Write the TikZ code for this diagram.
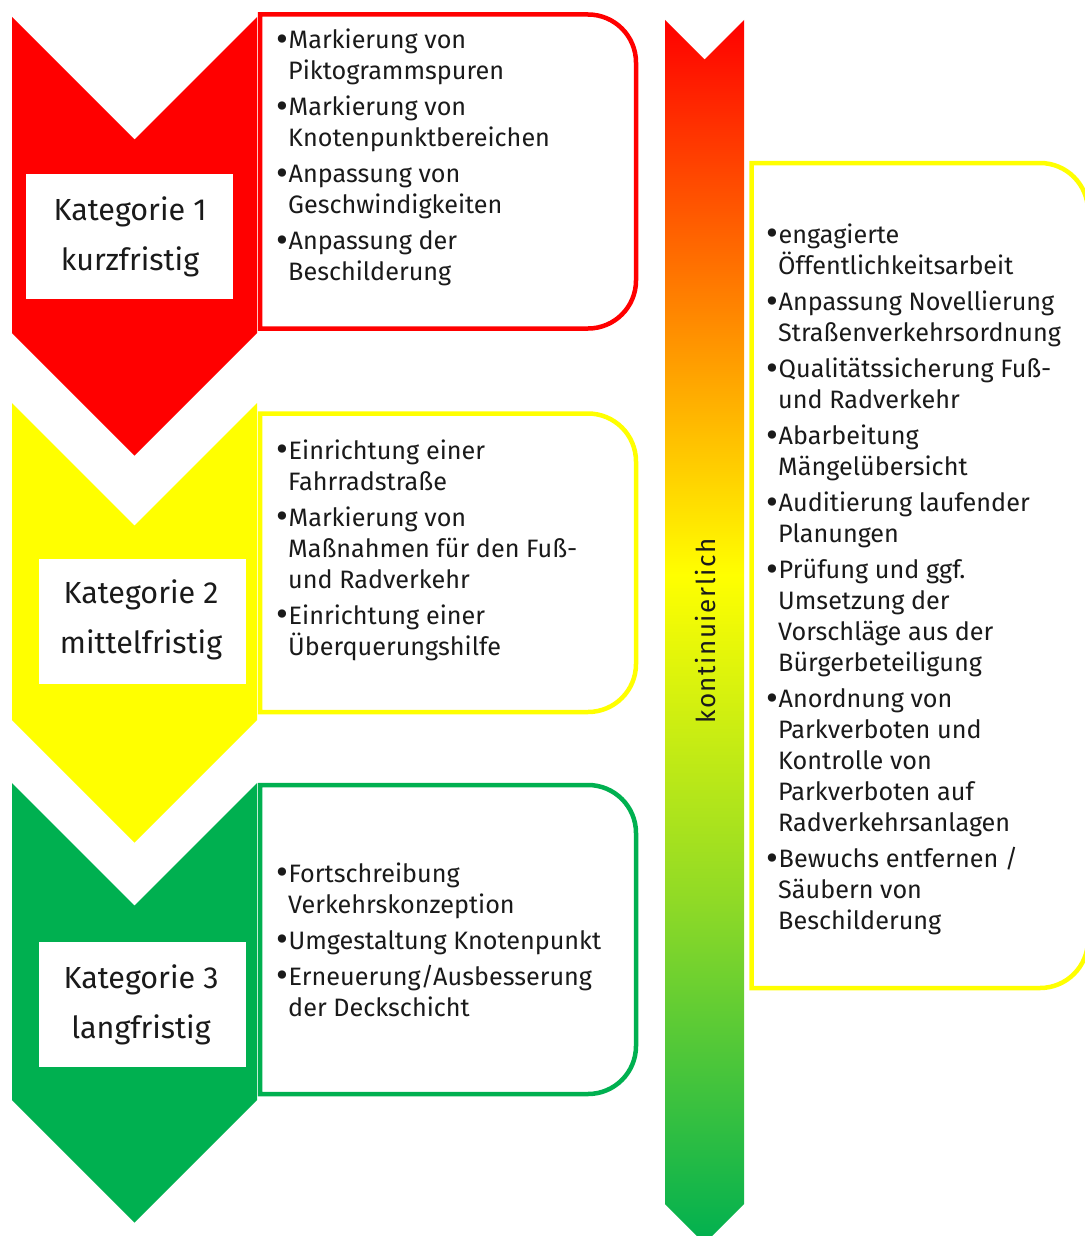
\documentclass[tikz,border=0pt]{standalone}
\usepackage{fontspec}
\usepackage{graphicx}
\setmainfont{Fira Sans}
\definecolor{kred}{HTML}{FF0000}
\definecolor{kyellow}{HTML}{FFFF00}
\definecolor{kgreen}{HTML}{00B050}
\definecolor{klgreen}{HTML}{90DA26}
\definecolor{ktext}{HTML}{1A1A1A}
\pgfdeclareverticalshading{kontgrad}{100bp}{color(0bp)=(kgreen); color(25bp)=(kgreen); color(39.05bp)=(klgreen); color(52.33bp)=(kyellow); color(75bp)=(kred); color(100bp)=(kred)}
\newcommand{\kbu}{\makebox[12.5pt][l]{\raisebox{-2.5pt}{\scalebox{1.45}{•}}}}
\newcommand{\kct}{\hspace*{12pt}}
\newcommand{\kchev}[3]{\fill[#1] (12,#2) -- (134.5,{#2+122.5}) -- (257,#2) -- (257,#3) -- (134.5,{#3+122.5}) -- (12,#3) -- cycle;}
\newcommand{\kbox}[5]{\draw[#1, line width=4.5pt, fill=white] (#2,#3) -- ({#4-48},#3) arc[start angle=-90,end angle=0,radius=48] -- (#4,{#5-48}) arc[start angle=0,end angle=90,radius=48] -- (#2,#5) -- cycle;}
\begin{document}
\begin{tikzpicture}[x=1pt,y=-1pt,
  lst/.style={anchor=base west, inner sep=0pt, text=ktext, font=\fontsize{25.2}{31}\selectfont},
  labbox/.style={fill=white, inner sep=0pt, minimum width=207pt, minimum height=125pt},
  labtext/.style={anchor=base, inner sep=0pt, text=ktext, font=\fontsize{30.5}{50}\selectfont}]
\useasboundingbox (0,0) rectangle (1084,1236);
\fill[white] (0,0) rectangle (1084,1236);
% chevrons
\kchev{kred}{17}{333}
\kchev{kyellow}{403}{720}
\kchev{kgreen}{783}{1100}
% text boxes
\kbox{kred}{260}{14.5}{636}{328.5}
\kbox{kyellow}{260}{413.5}{636}{712}
\kbox{kgreen}{260}{785}{636}{1094}
\kbox{kyellow}{751.5}{163}{1088}{988}
% gradient bar
\shade[shading=kontgrad] (665,20) -- (704.5,59.5) -- (744,20) -- (744,1204) -- (704.5,1243.5) -- (665,1204) -- cycle;
\node[rotate=90, anchor=base, inner sep=0pt, text=ktext, font=\fontsize{26}{31}\selectfont\addfontfeatures{LetterSpace=6}] (kont) at (715,631) {kontinuierlich};
% label boxes
\node[labbox] (k1) at (129.5,236.5) {};
\node[labtext] (k1t) at (130,220) {\begin{tabular}[t]{@{}c@{}}Kategorie 1\\kurzfristig\end{tabular}};
\node[labbox] (k2) at (142,621.5) {};
\node[labtext] (k2t) at (141,603) {\begin{tabular}[t]{@{}c@{}}Kategorie 2\\mittelfristig\end{tabular}};
\node[labbox] (k3) at (142,1004.5) {};
\node[labtext] (k3t) at (141,988) {\begin{tabular}[t]{@{}c@{}}Kategorie 3\\langfristig\end{tabular}};
% lists
\node[lst] (l1) at (276,49) {\begin{tabular}[t]{@{}l@{}}
\kbu Markierung von\\ \kct Piktogrammspuren\\[5pt]
\kbu Markierung von\\ \kct Knotenpunktbereichen\\[5pt]
\kbu Anpassung von\\ \kct Geschwindigkeiten\\[5pt]
\kbu Anpassung der\\ \kct Beschilderung
\end{tabular}};
\node[lst] (l2) at (276,459) {\begin{tabular}[t]{@{}l@{}}
\kbu Einrichtung einer\\ \kct Fahrradstraße\\[5pt]
\kbu Markierung von\\ \kct Maßnahmen für den Fuß-\\ \kct und Radverkehr\\[5pt]
\kbu Einrichtung einer\\ \kct Überquerungshilfe
\end{tabular}};
\node[lst] (l3) at (276,882) {\begin{tabular}[t]{@{}l@{}}
\kbu Fortschreibung\\ \kct Verkehrskonzeption\\[5pt]
\kbu Umgestaltung Knotenpunkt\\[5pt]
\kbu Erneuerung/Ausbesserung\\ \kct der Deckschicht
\end{tabular}};
\node[lst] (l4) at (766,243) {\begin{tabular}[t]{@{}l@{}}
\kbu engagierte\\ \kct Öffentlichkeitsarbeit\\[5pt]
\kbu Anpassung Novellierung\\ \kct Straßenverkehrsordnung\\[5pt]
\kbu Qualitätssicherung Fuß-\\ \kct und Radverkehr\\[5pt]
\kbu Abarbeitung\\ \kct Mängelübersicht\\[5pt]
\kbu Auditierung laufender\\ \kct Planungen\\[5pt]
\kbu Prüfung und ggf.\\ \kct Umsetzung der\\ \kct Vorschläge aus der\\ \kct Bürgerbeteiligung\\[5pt]
\kbu Anordnung von\\ \kct Parkverboten und\\ \kct Kontrolle von\\ \kct Parkverboten auf\\ \kct Radverkehrsanlagen\\[5pt]
\kbu Bewuchs entfernen /\\ \kct Säubern von\\ \kct Beschilderung
\end{tabular}};
\end{tikzpicture}
\end{document}
